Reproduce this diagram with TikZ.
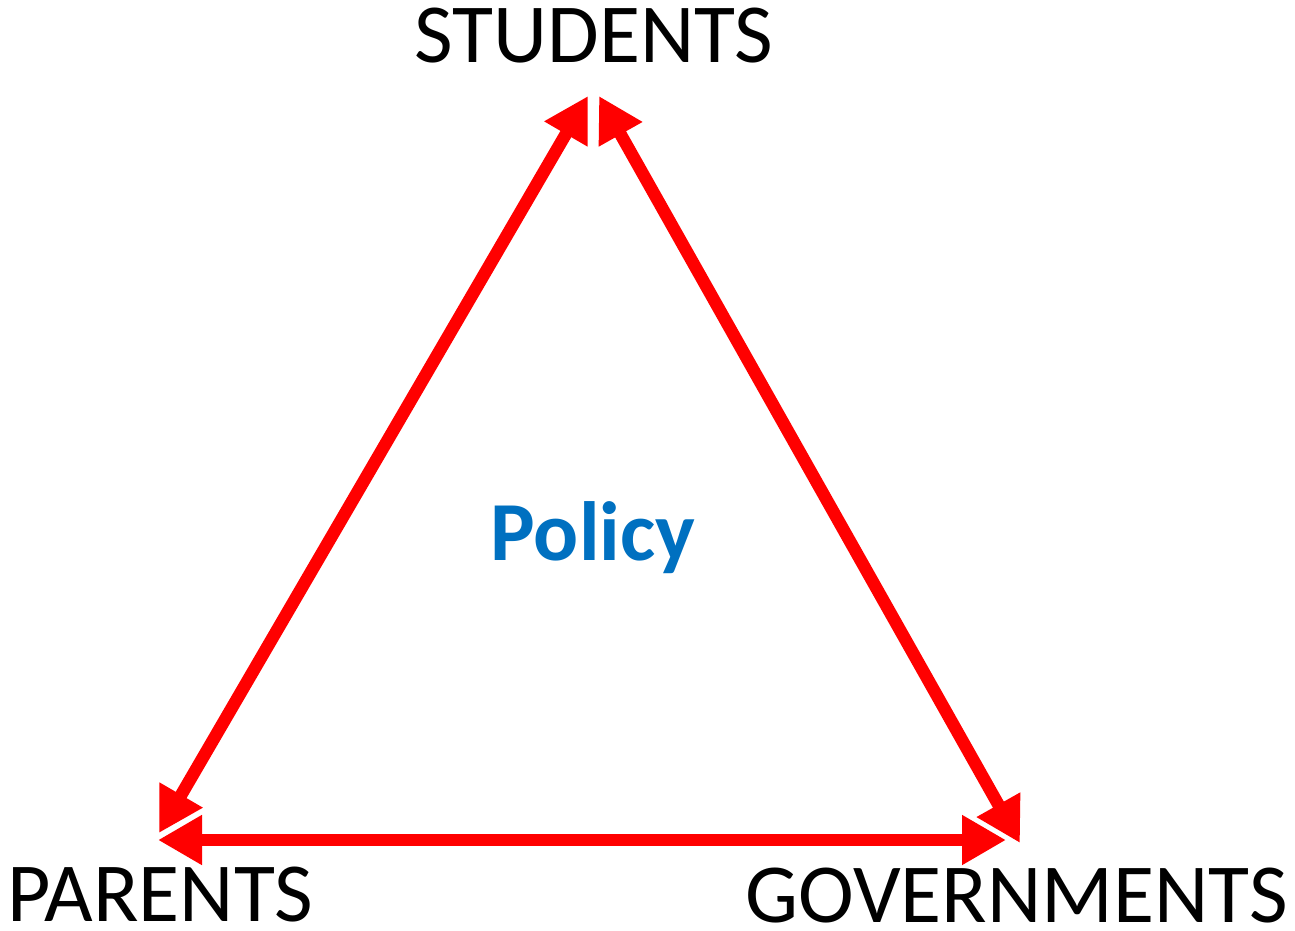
\documentclass[tikz,border=0pt]{standalone}
\usepackage{fontspec}
\setmainfont{Carlito}
\usetikzlibrary{arrows.meta}
\definecolor{policyblue}{RGB}{0,112,192}
\begin{document}
\begin{tikzpicture}[x=1pt,y=-1pt,
  link/.style={draw=red, line width=12.5pt,
    {Triangle[length=44pt,width=47pt]}-{Triangle[length=44pt,width=47pt]}},
  lab/.style={font=\fontsize{84}{84}\selectfont, inner sep=0pt}]
\useasboundingbox (0,0) rectangle (1295,931);
\node[lab, anchor=base] (students) at (594,63) {STUDENTS};
\node[lab, anchor=base west] (parents) at (7,921) {PARENTS};
\node[lab, anchor=base east] (gov) at (1288,922) {GOVERNMENTS};
\node[lab, anchor=base, font=\fontsize{84}{84}\selectfont\bfseries, text=policyblue] (policy) at (593,560) {Policy};
\coordinate (sL) at (588,96);
\coordinate (sR) at (599,96);
\coordinate (pT) at (159,833);
\coordinate (pB) at (158,840);
\coordinate (gT) at (1020,843);
\coordinate (gB) at (1006,840);
\draw[link] (sL) -- (pT);
\draw[link] (sR) -- (gT);
\draw[link] (pB) -- (gB);
\end{tikzpicture}
\end{document}
